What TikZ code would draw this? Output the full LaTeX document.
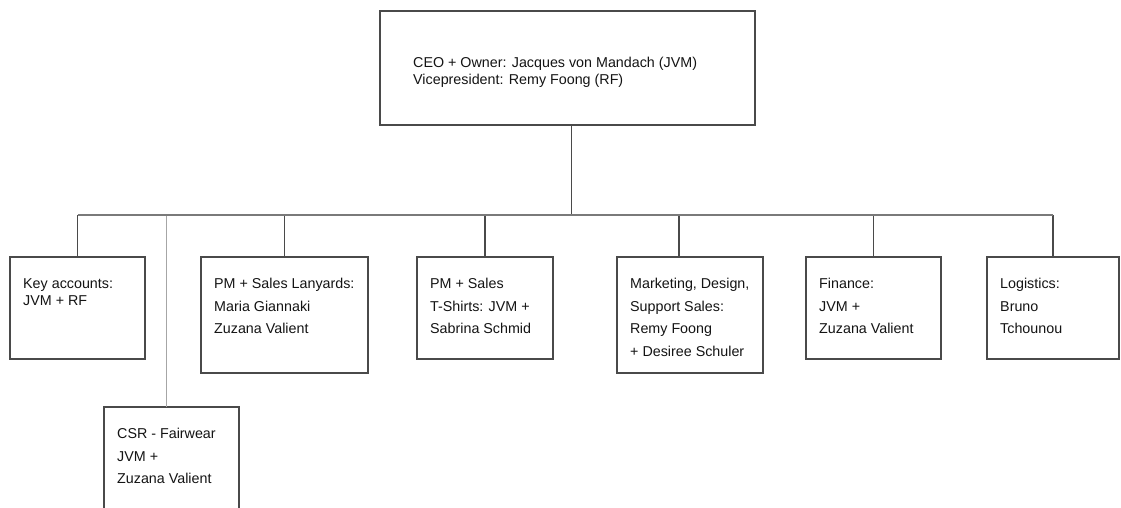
\documentclass[tikz,border=0pt]{standalone}
\usepackage{fontspec}
\setmainfont{Liberation Sans}
\usepackage{tikz}
\usetikzlibrary{positioning}
\definecolor{linegray}{HTML}{4A4A4A}
\definecolor{busgray}{HTML}{7A7A7A}

\begin{document}
\begin{tikzpicture}[x=1pt, y=1pt, font=\fontsize{14.3pt}{22.5pt}\selectfont, text=black!92,
    blk/.style={draw=linegray, line width=1.2pt, anchor=north west, minimum width=135pt, minimum height=102pt, inner sep=0pt, outer sep=0pt},
    txt/.style={anchor=north west, align=left, inner sep=0pt, xshift=13pt, yshift=-21pt},
    tight/.style={font=\fontsize{14.3pt}{17pt}\selectfont},
    conn/.style={draw=linegray, line width=1.3pt},
    busline/.style={draw=busgray, line width=2pt}]
    \clip (0,0) rectangle (1121,-507);
    \fill[white] (0,0) rectangle (1121,-507);
    % top
    \node[blk, minimum width=375pt, minimum height=114pt,
      label={[anchor=north west, align=left, inner sep=0pt, xshift=33pt, yshift=-46pt, tight]north west:{CEO + Owner: Jacques von Mandach (JVM)\\Vicepresident: Remy Foong (RF)}}] (ceo) at (380,-11) {};
    % departments
    \node[blk, label={[txt, tight]north west:{Key accounts:\\JVM + RF}}] (keyacc) at (10,-257) {};
    \node[blk, minimum width=167pt, minimum height=116pt, right=56pt of keyacc.north east, anchor=north west,
      label={[txt]north west:{PM + Sales Lanyards:\\Maria Giannaki\\Zuzana Valient}}] (lany) {};
    \node[blk, minimum width=136pt, right=49pt of lany.north east, anchor=north west,
      label={[txt]north west:{PM + Sales\\T-Shirts: JVM +\\Sabrina Schmid}}] (tshirt) {};
    \node[blk, minimum width=146pt, minimum height=116pt, right=64pt of tshirt.north east, anchor=north west,
      label={[txt]north west:{Marketing, Design,\\Support Sales:\\Remy Foong\\+ Desiree Schuler}}] (mkt) {};
    \node[blk, right=43pt of mkt.north east, anchor=north west,
      label={[txt]north west:{Finance:\\JVM +\\Zuzana Valient}}] (fin) {};
    \node[blk, minimum width=132pt, right=46pt of fin.north east, anchor=north west,
      label={[txt]north west:{Logistics:\\Bruno\\Tchounou}}] (logi) {};
    \node[blk, minimum height=120pt, label={[txt]north west:{CSR - Fairwear\\JVM +\\Zuzana Valient}}] (csr) at (104,-407) {};
    % lines
    \coordinate (bus) at (570,-215);
    \coordinate (ceobot) at ([xshift=4pt]ceo.south);
    \coordinate (csrtop) at ([xshift=-5pt]csr.north);
    \coordinate (mkttop) at ([xshift=-11pt]mkt.north);
    \draw[draw=black!35, line width=0.8pt] (csrtop) -- (csrtop |- bus);
    \draw[conn] (ceobot) -- (ceobot |- bus);
    \foreach \n in {keyacc, lany, tshirt, fin, logi}
      \draw[conn] (\n.north) -- (\n.north |- bus);
    \draw[conn] (mkttop) -- (mkttop |- bus);
    \draw[busline] (keyacc.north |- bus) -- (logi.north |- bus);
\end{tikzpicture}
\end{document}
